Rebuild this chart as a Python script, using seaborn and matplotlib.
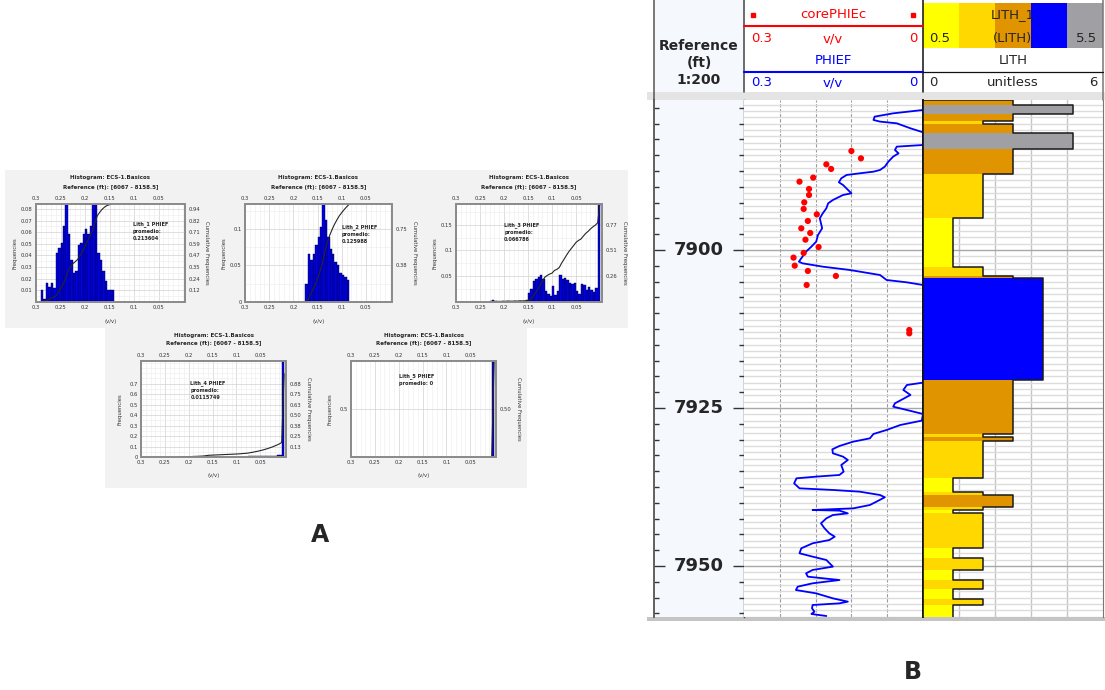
import numpy as np
import matplotlib
matplotlib.use("Agg")
import matplotlib.pyplot as plt
from matplotlib.patches import Rectangle
from matplotlib.ticker import MultipleLocator, AutoMinorLocator
import seaborn as sns

sns.set_style("white")
plt.rcParams["font.family"] = ["DejaVu Sans"]

W, H = 1105, 690

# ---------------- Panel A: PHIEF histograms per lithology ----------------
BIN_W = 0.005
X_TICKS = [0.3, 0.25, 0.2, 0.15, 0.1, 0.05]
X_LABELS = ["0.3", "0.25", "0.2", "0.15", "0.1", "0.05"]

# upper edge of leftmost bin, then frequencies read left -> right
h1_start = 0.29
h1_freq = [0.010, 0.003, 0.016, 0.013, 0.016, 0.012, 0.042, 0.046, 0.051, 0.065,
           0.090, 0.058, 0.036, 0.025, 0.027, 0.049, 0.051, 0.058, 0.063, 0.058,
           0.065, 0.090, 0.090, 0.042, 0.036, 0.027, 0.018, 0.010, 0.010, 0.010]
h2_start = 0.175
h2_freq = [0.025, 0.065, 0.057, 0.065, 0.078, 0.089, 0.103, 0.140, 0.112, 0.089,
           0.073, 0.065, 0.055, 0.050, 0.040, 0.037, 0.034, 0.030]
h3_start = 0.23
h3_freq = [0.002, 0.003, 0.002, 0.0, 0.0, 0.001, 0.0, 0.002, 0.0, 0.0,
           0.001, 0.0, 0.002, 0.0, 0.001, 0.003,
           0.018, 0.026, 0.040, 0.044, 0.048, 0.053, 0.044, 0.021, 0.016, 0.011,
           0.031, 0.013, 0.021, 0.053, 0.044, 0.047, 0.042, 0.037, 0.035, 0.037,
           0.022, 0.016, 0.034, 0.032, 0.024, 0.029, 0.024, 0.020, 0.027, 0.250]
h4_start = 0.22
h4_freq = [0.001, 0.001, 0.002, 0.001, 0.001, 0.002, 0.001, 0.001, 0.002, 0.001,
           0.004, 0.005, 0.003, 0.001, 0.002, 0.001, 0.002, 0.001, 0.002, 0.001,
           0.002, 0.001, 0.002, 0.001,
           0.002, 0.003, 0.003, 0.002, 0.004, 0.006, 0.006, 0.007, 0.006, 0.008,
           0.008, 0.010, 0.009, 0.012, 0.011, 0.014, 0.013, 0.016, 0.020, 0.950]
h5_start = 0.005
h5_freq = [1.0]

h1_lticks = [0.01, 0.02, 0.03, 0.04, 0.05, 0.06, 0.07, 0.08]
h1_rlabels = ["0.12", "0.24", "0.35", "0.47", "0.59", "0.71", "0.82", "0.94"]
h2_lticks = [0, 0.05, 0.1]
h2_rlabels = ["0.38", "0.75"]
h3_lticks = [0.05, 0.1, 0.15]
h3_rlabels = ["0.26", "0.51", "0.77"]
h4_lticks = [0, 0.1, 0.2, 0.3, 0.4, 0.5, 0.6, 0.7]
h4_rlabels = ["0.13", "0.25", "0.38", "0.50", "0.63", "0.75", "0.88"]
h5_lticks = [0.5]
h5_rlabels = ["0.50"]

h_notes = ["Lith_1 PHIEF\npromedio:\n0.213604",
           "Lith_2 PHIEF\npromedio:\n0.125988",
           "Lith_3 PHIEF\npromedio:\n0.066786",
           "Lith_4 PHIEF\npromedio:\n0.0115749",
           "Lith_5 PHIEF\npromedio: 0"]

# ---------------- Panel B: well log ----------------
DEPTH_TOP, DEPTH_BASE = 7876.27, 7958.07
depth_labels = [7900, 7925, 7950]

phief_depth = [7876.27, 7877.85, 7878.38, 7878.90, 7879.43, 7879.69, 7879.96, 7880.75, 7881.38, 7883.39,
               7883.65, 7884.18, 7884.71, 7885.23, 7886.02, 7886.81, 7887.34, 7887.61, 7887.87, 7888.13,
               7888.66, 7889.29, 7889.72, 7891.03, 7891.30, 7892.09, 7892.62, 7893.41, 7894.20, 7894.99,
               7895.78, 7896.57, 7897.63, 7898.68, 7899.47, 7900.26, 7901.32, 7901.85, 7902.11, 7902.64,
               7903.16, 7903.96, 7904.75, 7905.12, 7905.54, 7920.99, 7921.36, 7922.15, 7922.94, 7924.26,
               7924.79, 7925.32, 7925.95, 7927.00, 7927.69, 7928.48, 7929.11, 7929.80, 7930.33, 7931.01,
               7931.54, 7932.17, 7932.70, 7933.23, 7934.02, 7935.07, 7935.60, 7935.86, 7936.13, 7936.92,
               7937.71, 7937.97, 7938.24, 7938.77, 7939.13, 7939.82, 7940.35, 7940.88, 7941.14, 7941.24,
               7941.67, 7941.93, 7942.46, 7943.25, 7944.04, 7944.83, 7945.36, 7945.89, 7946.41, 7947.20,
               7947.99, 7948.52, 7949.05, 7950.10, 7950.63, 7951.16, 7951.69, 7952.22, 7952.74, 7953.27,
               7953.80, 7954.33, 7955.12, 7955.64, 7955.91, 7956.17, 7956.70, 7957.22, 7957.59, 7957.91]
phief_val = [0, 0, 0.050, 0.081, 0.083, 0.072, 0.044, 0.021, 0, 0,
             0.044, 0.047, 0.041, 0.050, 0.058, 0.064, 0.072, 0.083, 0.106, 0.128,
             0.137, 0.141, 0.134, 0.120, 0.134, 0.151, 0.159, 0.162, 0.168, 0.173,
             0.171, 0.169, 0.176, 0.179, 0.187, 0.196, 0.204, 0.208, 0.202, 0.168,
             0.123, 0.072, 0.061, 0.027, 0, 0, 0.027, 0.033, 0.021, 0.047,
             0.050, 0.027, 0, 0.002, 0.038, 0.061, 0.083, 0.089, 0.117, 0.140,
             0.152, 0.151, 0.134, 0.126, 0.137, 0.133, 0.140, 0.179, 0.212, 0.216,
             0.207, 0.151, 0.106, 0.072, 0.064, 0.078, 0.089, 0.117, 0.185, 0.140,
             0.126, 0.151, 0.162, 0.171, 0.165, 0.157, 0.148, 0.157, 0.185, 0.204,
             0.207, 0.185, 0.162, 0.151, 0.185, 0.196, 0.193, 0.140, 0.185, 0.210,
             0.213, 0.179, 0.151, 0.126, 0.140, 0.185, 0.186, 0.182, 0.187, 0.162]

core_depth = [7884.34, 7885.50, 7886.45, 7887.18, 7888.55, 7889.19, 7890.35, 7891.30, 7892.46, 7893.51,
              7894.36, 7895.41, 7896.57, 7897.31, 7898.37, 7899.53, 7900.47, 7901.21, 7902.48, 7903.32,
              7904.11, 7905.54, 7912.66, 7913.19]
core_val = [0.120, 0.104, 0.162, 0.154, 0.184, 0.207, 0.191, 0.191, 0.199, 0.200,
            0.178, 0.193, 0.204, 0.189, 0.197, 0.175, 0.200, 0.217, 0.215, 0.193,
            0.146, 0.195, 0.023, 0.023]

lith_top = [7876.27, 7877.06, 7878.48, 7879.59, 7880.12, 7881.54, 7884.07, 7888.03, 7894.99, 7902.64,
            7904.11, 7904.48, 7920.57, 7929.11, 7929.64, 7930.17, 7936.13, 7938.24, 7938.77, 7940.61,
            7941.14, 7941.67, 7947.10, 7948.68, 7950.63, 7952.22, 7953.69, 7955.27, 7956.22]
lith_code = [3, 5, 3, 2, 3, 5, 3, 2, 1, 2, 3, 4, 3, 2, 3, 2, 1, 2, 3, 2, 1, 2, 1, 2, 1, 2, 1, 2, 1]
lith_codes = [1, 2, 3, 4, 5]
lith_colors = {1: "#ffff00", 2: "#ffd800", 3: "#e09400", 4: "#0000ff", 5: "#a0a0a4"}

fig = plt.figure(figsize=(W / 100, H / 100), dpi=100)


def px_axes(x0, y0, x1, y1, **kw):
    return fig.add_axes([x0 / W, 1 - y1 / H, (x1 - x0) / W, (y1 - y0) / H], **kw)


# background layer (pixel coordinates)
bg = px_axes(0, 0, W, H, zorder=-5)
bg.set_xlim(0, W)
bg.set_ylim(H, 0)
bg.axis("off")
bg.add_patch(Rectangle((5, 170), 623, 158, color="#f2f2f2", lw=0))
bg.add_patch(Rectangle((105, 328), 422, 160, color="#f2f2f2", lw=0))
bg.add_patch(Rectangle((654, 0), 90, 92, color="#f5f9fd", lw=0))
bg.add_patch(Rectangle((647, 92), 458, 8, color="#e4e4e4", lw=0))
bg.add_patch(Rectangle((647, 617), 458, 4, color="#c4c4c4", lw=0))


def draw_hist(box, start, freq, lmax, lticks, rmax, rlabels, note, note_xy):
    x0, y0, x1, y1 = box
    ax = px_axes(x0, y0, x1, y1)
    n = len(freq)
    edges = [start - BIN_W * i for i in range(n + 1)]
    centers = [start - BIN_W * (i + 0.5) for i in range(n)]
    sns.histplot(x=centers, weights=freq, bins=sorted(edges), color="#0000e6",
                 edgecolor="#000030", linewidth=0.3, alpha=1, ax=ax)
    ax.set_xlim(0.3, -0.004)
    ax.set_ylim(0, lmax)
    ax.set_xticks(X_TICKS)
    ax.set_xticklabels(X_LABELS)
    ax.xaxis.set_minor_locator(MultipleLocator(0.01))
    ax.set_yticks(lticks)
    ax.set_yticklabels([f"{t:g}" for t in lticks])
    ax.yaxis.set_minor_locator(AutoMinorLocator(2))
    ax.tick_params(which="both", length=0, labelsize=3.8, pad=2.5, labeltop=True,
                   labelcolor="#333333")
    ax.grid(which="major", color="#d2d2d2", lw=0.5)
    ax.grid(which="minor", color="#ececec", lw=0.4)
    ax.set_axisbelow(True)
    ax.set_xlabel("")
    ax.set_ylabel("")
    for s in ax.spines.values():
        s.set_color("#8c8c8c")
        s.set_linewidth(1.3)

    # cumulative frequency on the right axis
    ax2 = ax.twinx()
    cum = np.concatenate([[0], np.cumsum(freq)]) / np.sum(freq)
    sns.lineplot(x=edges, y=cum, sort=False, estimator=None, color="#262626", lw=0.8, ax=ax2)
    ax2.set_ylim(0, rmax)
    ax2.set_yticks([t * rmax / lmax for t in lticks if t > 0])
    ax2.set_yticklabels(rlabels)
    ax2.tick_params(length=0, labelsize=3.8, pad=2.5, labelcolor="#333333")
    ax2.set_ylabel("")
    for s in ax2.spines.values():
        s.set_color("#8c8c8c")
        s.set_linewidth(1.3)

    ax.text(note_xy[0], note_xy[1], note, transform=ax.transAxes, fontsize=3.6,
            fontweight="bold", va="top", ha="left", linespacing=1.5, zorder=6)

    cx = (x0 + x1) / 2
    top.text(cx, y0 - 26, "Histogram: ECS-1.Basicos", fontsize=4, fontweight="bold",
             ha="center", va="center")
    top.text(cx, y0 - 17, "Reference (ft): [6067 - 8158.5]", fontsize=4, fontweight="bold",
             ha="center", va="center")
    top.text(cx, y1 + 19, "(v/v)", fontsize=3.8, ha="center", va="center", color="#333333")
    top.text(x0 - 21, (y0 + y1) / 2, "Frequencies", fontsize=3.8, rotation=90,
             ha="center", va="center", color="#333333")
    top.text(x1 + 22, (y0 + y1) / 2, "Cumulative Frequencies", fontsize=3.8, rotation=-90,
             ha="center", va="center", color="#333333")


# top text layer (pixel coordinates), drawn above everything
top = px_axes(0, 0, W, H, zorder=20)
top.set_xlim(0, W)
top.set_ylim(H, 0)
top.axis("off")

draw_hist((36, 204, 185, 302), h1_start, h1_freq, 0.0842, h1_lticks, 0.99, h1_rlabels,
          h_notes[0], (0.65, 0.83))
draw_hist((245, 204, 392, 302), h2_start, h2_freq, 0.134, h2_lticks, 1.005, h2_rlabels,
          h_notes[1], (0.66, 0.79))
draw_hist((456, 204, 602, 302), h3_start, h3_freq, 0.19, h3_lticks, 0.975, h3_rlabels,
          h_notes[2], (0.33, 0.82))
draw_hist((141, 361, 286, 457), h4_start, h4_freq, 0.917, h4_lticks, 1.153, h4_rlabels,
          h_notes[3], (0.34, 0.80))
draw_hist((351, 361, 496, 457), h5_start, h5_freq, 1.0, h5_lticks, 1.0, h5_rlabels,
          h_notes[4], (0.33, 0.87))

top.text(320, 535, "A", fontsize=17, fontweight="bold", ha="center", va="center")
top.text(913, 672, "B", fontsize=17, fontweight="bold", ha="center", va="center")

# ---- depth track ----
axd = px_axes(654, 100, 744, 617)
axd.set_facecolor("#f5f9fd")
axd.set_xlim(0, 1)
axd.set_ylim(DEPTH_BASE, DEPTH_TOP)
axd.set_xticks([])
axd.yaxis.set_major_locator(MultipleLocator(25))
axd.yaxis.set_minor_locator(MultipleLocator(2.5))
axd.yaxis.set_ticks_position("both")
axd.tick_params(axis="y", which="major", direction="in", length=8, width=1, color="#333333",
                labelleft=False, labelright=False)
axd.tick_params(axis="y", which="minor", direction="in", length=3.3, width=1, color="#333333")
for d in depth_labels:
    axd.text(0.5, d, str(d), ha="center", va="center", fontsize=13, fontweight="bold")
axd.spines["top"].set_visible(False)
axd.spines["bottom"].set_visible(False)
axd.spines["left"].set_color("#555555")
axd.spines["left"].set_linewidth(1.3)
axd.spines["right"].set_color("#444444")
axd.spines["right"].set_linewidth(1.0)

# ---- porosity track ----
ax1 = px_axes(744, 100, 923, 617)
ax1.set_xlim(0.3, 0)
ax1.set_ylim(DEPTH_BASE, DEPTH_TOP)
ax1.set_xticks([0.24, 0.18, 0.12, 0.06])
ax1.yaxis.set_major_locator(MultipleLocator(25))
ax1.yaxis.set_minor_locator(MultipleLocator(1))
ax1.grid(axis="x", which="major", color="#9a9a9a", ls=(0, (3, 1.5)), lw=0.8)
ax1.grid(axis="y", which="minor", color="#dcdcdc", lw=1.0)
ax1.grid(axis="y", which="major", color="#a8a8a8", lw=1.0)
ax1.tick_params(which="both", length=0, labelleft=False, labelbottom=False)
sns.lineplot(x=phief_val, y=phief_depth, sort=False, estimator=None, color="#0000ff",
             lw=1.3, ax=ax1, zorder=4)
sns.scatterplot(x=core_val, y=core_depth, color="#ff0000", s=20, edgecolor="none",
                ax=ax1, zorder=5)
ax1.set_xlabel("")
ax1.set_ylabel("")
for k in ["top", "bottom", "left"]:
    ax1.spines[k].set_visible(False)
ax1.spines["right"].set_color("#111111")
ax1.spines["right"].set_linewidth(1.2)

# ---- lithology track ----
ax2 = px_axes(923, 100, 1103, 617)
ax2.set_xlim(0, 6)
ax2.set_ylim(DEPTH_BASE, DEPTH_TOP)
ax2.set_xticks([1.2, 2.4, 3.6, 4.8])
ax2.yaxis.set_major_locator(MultipleLocator(25))
ax2.yaxis.set_minor_locator(MultipleLocator(1))
ax2.grid(axis="x", which="major", color="#c4c4c4", lw=1.0)
ax2.grid(axis="y", which="minor", color="#dcdcdc", lw=1.0)
ax2.grid(axis="y", which="major", color="#a8a8a8", lw=1.0)
ax2.set_axisbelow(True)
ax2.tick_params(which="both", length=0, labelleft=False, labelbottom=False)
lith_base = lith_top[1:] + [DEPTH_BASE]
heights = [b - t for t, b in zip(lith_top, lith_base)]
ax2.barh(y=lith_top, width=lith_code, height=heights, left=0, align="edge",
         color=[lith_colors[c] for c in lith_code], lw=0, zorder=2)
xs, ys = [0], [lith_top[0]]
for t, b, c in zip(lith_top, lith_base, lith_code):
    xs += [c, c]
    ys += [t, b]
ax2.plot(xs, ys, color="#1a1a1a", lw=1.1, zorder=3)
for k in ["top", "bottom"]:
    ax2.spines[k].set_visible(False)
ax2.spines["left"].set_color("#111111")
ax2.spines["left"].set_linewidth(1.2)
ax2.spines["right"].set_color("#777777")

# ---- header ----
axc = px_axes(923, 3, 1103, 48)
axc.bar(lith_codes, [1] * len(lith_codes), width=1,
        color=[lith_colors[c] for c in lith_codes], lw=0)
axc.set_xlim(0.5, 5.5)
axc.set_ylim(0, 1)
axc.axis("off")

for x, c, y1 in [(654, "#555555", 100), (744, "#444444", 92), (923, "#111111", 92),
                 (1103, "#777777", 100)]:
    top.plot([x, x], [0, y1], color=c, lw=1.1)
top.plot([744, 923], [25.5, 25.5], color="#ff0000", lw=1.5)
top.plot([744, 923], [72, 72], color="#0000ff", lw=1.5)
top.plot([923, 1103], [72, 72], color="#111111", lw=0.9)
top.plot([753, 913], [15, 15], ls="none", marker="s", ms=3, color="#ff0000")

hf = 9.5
top.text(833, 15, "corePHIEc", color="#ff0000", fontsize=hf, ha="center", va="center")
top.text(751, 38.5, "0.3", color="#ff0000", fontsize=hf, ha="left", va="center")
top.text(833, 38.5, "v/v", color="#ff0000", fontsize=hf, ha="center", va="center")
top.text(917, 38.5, "0", color="#ff0000", fontsize=hf, ha="right", va="center")
top.text(833, 60, "PHIEF", color="#0000ff", fontsize=hf, ha="center", va="center")
top.text(751, 83, "0.3", color="#0000ff", fontsize=hf, ha="left", va="center")
top.text(833, 83, "v/v", color="#0000ff", fontsize=hf, ha="center", va="center")
top.text(917, 83, "0", color="#0000ff", fontsize=hf, ha="right", va="center")
top.text(1013, 15, "LITH_1", fontsize=hf, ha="center", va="center")
top.text(929, 38.5, "0.5", fontsize=hf, ha="left", va="center")
top.text(1013, 38.5, "(LITH)", fontsize=hf, ha="center", va="center")
top.text(1097, 38.5, "5.5", fontsize=hf, ha="right", va="center")
top.text(1013, 60, "LITH", fontsize=hf, ha="center", va="center")
top.text(929, 83, "0", fontsize=hf, ha="left", va="center")
top.text(1013, 83, "unitless", fontsize=hf, ha="center", va="center")
top.text(1097, 83, "6", fontsize=hf, ha="right", va="center")
top.text(699, 63, "Reference\n(ft)\n1:200", fontsize=10, fontweight="bold", ha="center",
         va="center", linespacing=1.25)

fig.savefig("out.png", dpi=100)
